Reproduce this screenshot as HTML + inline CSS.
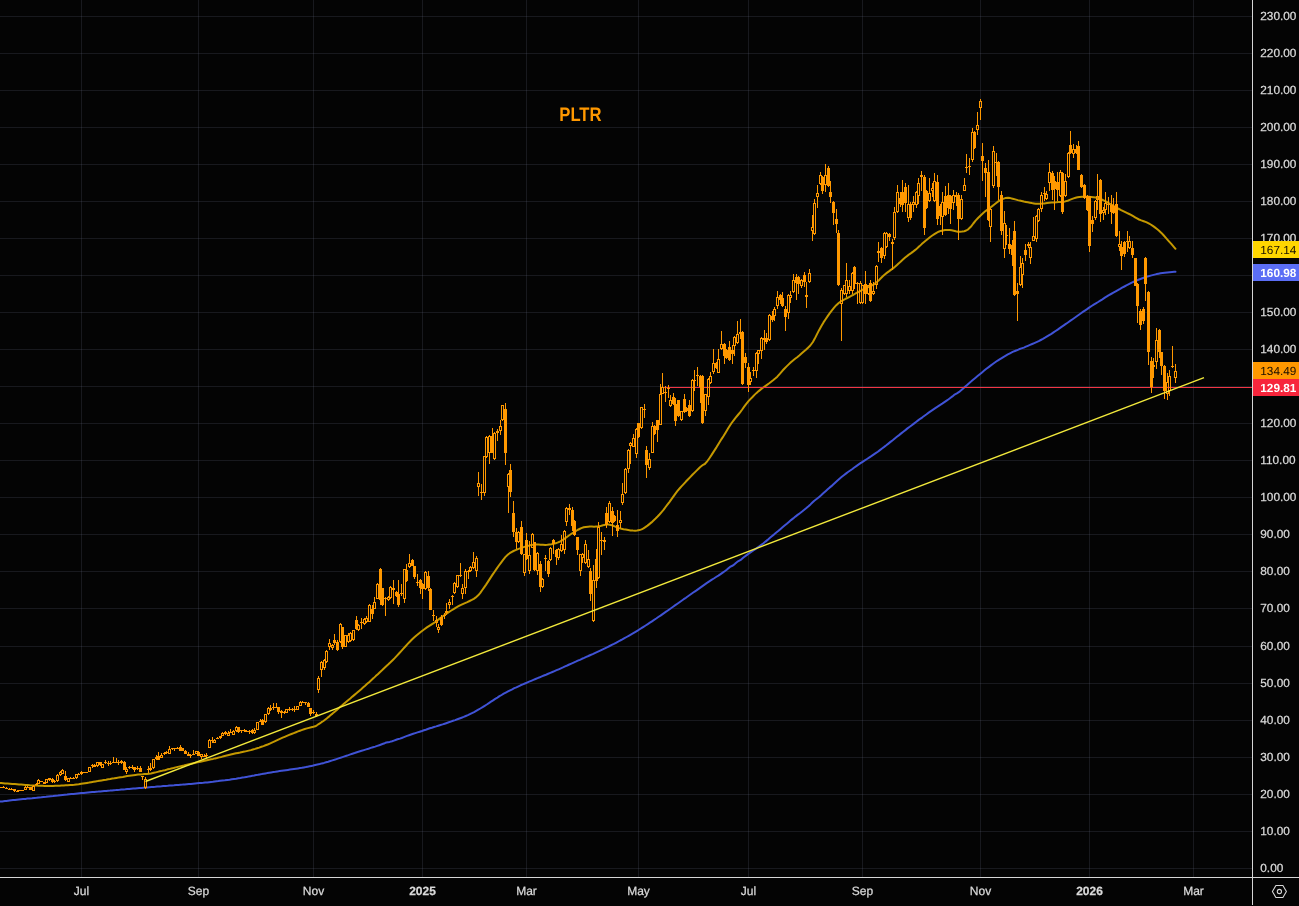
<!DOCTYPE html>
<html><head><meta charset="utf-8"><title>PLTR chart</title>
<style>
html,body{margin:0;padding:0;background:#040404;width:1299px;height:906px;overflow:hidden;font-family:"Liberation Sans",sans-serif}
#chart{position:relative;width:1299px;height:906px;overflow:hidden;will-change:transform}
svg text{-webkit-font-smoothing:antialiased;text-rendering:geometricPrecision}
</style></head><body><div id="chart">
<svg width="1299" height="906" viewBox="0 0 1299 906" style="position:absolute;left:0;top:0;display:block">
<rect width="1299" height="906" fill="#040404"/>
<path d="M81 0h1v877h-1zM198 0h1v877h-1zM313 0h1v877h-1zM422 0h1v877h-1zM526 0h1v877h-1zM638 0h1v877h-1zM748 0h1v877h-1zM862 0h1v877h-1zM980 0h1v877h-1zM1089 0h1v877h-1zM1193 0h1v877h-1z" fill="rgba(122,130,160,0.17)" shape-rendering="crispEdges"/>
<path d="M0 868h1252v1h-1252zM0 831h1252v1h-1252zM0 794h1252v1h-1252zM0 757h1252v1h-1252zM0 720h1252v1h-1252zM0 683h1252v1h-1252zM0 646h1252v1h-1252zM0 608h1252v1h-1252zM0 571h1252v1h-1252zM0 534h1252v1h-1252zM0 497h1252v1h-1252zM0 460h1252v1h-1252zM0 423h1252v1h-1252zM0 386h1252v1h-1252zM0 349h1252v1h-1252zM0 312h1252v1h-1252zM0 275h1252v1h-1252zM0 238h1252v1h-1252zM0 201h1252v1h-1252zM0 164h1252v1h-1252zM0 127h1252v1h-1252zM0 90h1252v1h-1252zM0 53h1252v1h-1252zM0 16h1252v1h-1252z" fill="rgba(122,130,160,0.17)" shape-rendering="crispEdges"/>
<polyline points="0.0,801.6 1.1,801.5 2.3,801.4 3.5,801.2 4.9,801.0 6.4,800.9 8.0,800.7 9.6,800.5 11.3,800.3 13.1,800.1 15.0,800.0 16.9,799.7 18.9,799.5 21.0,799.3 23.1,799.1 25.3,798.9 27.5,798.6 29.7,798.4 32.0,798.2 34.3,797.9 36.6,797.7 39.0,797.4 41.3,797.2 43.7,796.9 46.1,796.7 48.5,796.4 50.9,796.2 53.2,796.0 55.6,795.7 57.9,795.5 60.3,795.2 62.6,795.0 64.8,794.8 67.1,794.6 69.2,794.3 71.4,794.1 73.5,793.9 75.5,793.7 77.5,793.5 79.4,793.3 81.3,793.1 83.6,792.9 85.8,792.7 87.9,792.5 90.1,792.3 92.2,792.1 94.3,791.9 96.3,791.7 98.3,791.6 100.3,791.4 102.3,791.2 104.3,791.0 106.2,790.9 108.1,790.7 110.1,790.6 112.0,790.4 113.9,790.2 115.8,790.1 117.7,789.9 119.6,789.8 121.5,789.6 123.4,789.4 125.3,789.3 127.3,789.1 129.2,789.0 131.2,788.8 133.2,788.6 135.2,788.5 137.2,788.3 139.3,788.1 141.3,788.0 143.5,787.8 145.6,787.6 147.5,787.5 149.4,787.3 151.4,787.1 153.3,786.9 155.3,786.8 157.3,786.6 159.4,786.4 161.4,786.3 163.5,786.1 165.6,785.9 167.7,785.8 169.8,785.6 171.9,785.4 174.0,785.3 176.2,785.1 178.3,784.9 180.4,784.7 182.6,784.6 184.7,784.4 186.8,784.2 188.9,784.0 191.0,783.9 193.1,783.7 195.2,783.5 197.2,783.3 199.3,783.1 201.3,782.9 203.3,782.8 205.3,782.6 207.2,782.4 209.2,782.2 211.0,782.0 212.9,781.8 214.7,781.5 216.5,781.3 218.3,781.1 220.0,780.8 222.5,780.5 224.9,780.3 227.3,780.0 229.6,779.7 231.8,779.3 234.0,779.0 236.2,778.7 238.3,778.3 240.4,778.0 242.5,777.6 244.5,777.3 246.5,776.9 248.4,776.6 250.4,776.2 252.3,775.8 254.2,775.5 256.1,775.1 258.0,774.8 259.8,774.4 261.7,774.1 263.6,773.7 265.4,773.4 267.3,773.1 269.2,772.7 271.1,772.4 273.3,772.1 275.4,771.8 277.5,771.4 279.6,771.1 281.7,770.8 283.8,770.5 285.9,770.2 287.9,769.9 290.0,769.6 292.0,769.3 294.0,769.0 296.0,768.7 298.0,768.4 300.0,768.1 301.9,767.8 303.9,767.4 305.8,767.1 307.7,766.7 309.6,766.3 311.5,765.9 313.3,765.5 315.2,765.0 317.4,764.5 319.7,764.0 321.8,763.4 324.0,762.9 326.1,762.3 328.2,761.7 330.3,761.0 332.4,760.4 334.4,759.8 336.5,759.1 338.5,758.4 340.5,757.8 342.5,757.1 344.5,756.4 346.5,755.7 348.4,755.1 350.4,754.4 352.4,753.7 354.6,753.0 356.9,752.2 359.2,751.5 361.6,750.8 363.9,750.1 366.2,749.4 368.5,748.7 370.8,747.9 373.0,747.2 375.2,746.6 377.3,745.9 379.3,745.2 381.2,744.5 383.1,743.8 384.7,743.2 386.3,742.5 389.7,741.9 392.1,741.2 393.9,740.6 395.6,740.0 397.5,739.3 400.0,738.6 401.7,738.0 403.4,737.3 405.2,736.6 407.1,735.9 409.1,735.2 411.1,734.5 413.2,733.8 415.3,733.1 417.5,732.4 419.7,731.7 422.0,731.0 423.9,730.3 425.8,729.7 427.8,729.0 429.8,728.3 431.9,727.7 434.0,727.0 436.2,726.4 438.3,725.7 440.5,725.0 442.6,724.4 444.7,723.7 446.8,723.0 448.8,722.3 450.8,721.6 453.0,720.8 455.2,720.1 457.4,719.3 459.5,718.5 461.6,717.7 463.7,716.9 465.8,716.0 467.9,715.1 469.9,714.1 472.0,713.1 474.1,712.1 476.2,710.9 478.3,709.7 480.4,708.5 482.6,707.2 484.7,705.8 486.8,704.5 488.9,703.1 491.0,701.7 493.1,700.3 495.2,698.9 497.4,697.6 499.5,696.2 501.6,695.0 503.7,693.7 505.8,692.6 508.0,691.4 510.1,690.3 512.2,689.3 514.3,688.2 516.4,687.3 518.5,686.3 520.6,685.3 522.8,684.4 524.9,683.5 527.0,682.6 529.1,681.7 531.2,680.8 533.4,679.9 535.5,679.0 537.6,678.1 539.7,677.3 541.8,676.4 543.9,675.5 546.0,674.7 548.2,673.8 550.3,672.9 552.4,672.0 554.5,671.1 556.6,670.2 558.7,669.3 560.9,668.3 563.0,667.4 565.1,666.4 567.2,665.5 569.3,664.5 571.4,663.6 573.6,662.6 575.7,661.7 577.8,660.7 579.9,659.8 582.0,658.8 584.2,657.9 586.3,656.9 588.4,656.0 590.5,655.0 592.7,654.1 594.8,653.1 596.9,652.1 599.1,651.1 601.2,650.1 603.3,649.1 605.4,648.1 607.5,647.1 609.7,646.0 611.8,644.9 613.9,643.9 616.0,642.8 618.1,641.7 620.2,640.5 622.4,639.4 624.5,638.2 626.6,637.0 628.7,635.8 630.8,634.6 632.9,633.4 635.1,632.1 637.2,630.8 639.3,629.5 641.4,628.2 643.5,626.8 645.6,625.5 647.8,624.1 649.9,622.7 652.0,621.3 654.1,619.9 656.2,618.5 658.3,617.0 660.5,615.6 662.6,614.1 664.7,612.6 666.8,611.2 668.9,609.7 671.0,608.2 673.1,606.7 675.3,605.2 677.4,603.7 679.5,602.2 681.6,600.7 683.7,599.2 685.9,597.8 688.0,596.3 690.1,594.8 692.2,593.3 694.3,591.8 696.5,590.4 698.6,588.9 700.7,587.4 702.8,585.9 704.9,584.4 707.0,582.9 709.3,581.4 711.5,579.9 713.8,578.5 716.1,577.0 718.4,575.6 720.6,574.1 722.7,572.6 724.7,571.2 726.7,569.8 728.4,568.3 730.0,566.9 732.9,565.5 734.7,564.1 736.2,562.7 738.0,561.3 740.7,559.9 742.3,558.5 744.1,557.0 746.0,555.6 748.0,554.1 750.1,552.6 752.3,551.1 754.5,549.7 756.8,548.1 759.0,546.5 761.3,544.9 763.5,543.3 765.5,541.6 767.6,539.9 769.7,538.1 771.8,536.3 773.9,534.6 776.0,532.8 778.2,531.0 780.3,529.2 782.5,527.3 784.6,525.5 786.8,523.7 788.9,521.9 791.0,520.1 793.2,518.4 795.4,516.6 797.6,514.9 799.9,513.2 802.1,511.5 804.3,509.7 806.4,508.0 808.5,506.2 810.5,504.4 812.4,502.5 814.3,500.7 816.9,498.8 819.2,496.9 821.4,495.0 823.5,493.1 825.6,491.2 827.7,489.3 829.8,487.4 832.1,485.6 834.0,483.8 835.9,482.0 837.8,480.2 839.8,478.5 841.8,476.8 843.8,475.2 845.9,473.6 848.0,472.0 850.2,470.5 852.4,469.0 854.3,467.5 856.3,466.1 858.4,464.6 860.5,463.2 862.6,461.8 864.8,460.4 867.0,459.0 869.1,457.6 871.3,456.2 873.5,454.7 875.7,453.2 877.8,451.7 879.9,450.1 882.0,448.5 884.2,446.9 886.3,445.3 888.4,443.6 890.5,441.9 892.7,440.2 894.8,438.5 896.9,436.8 899.1,435.1 901.2,433.4 903.3,431.7 905.4,430.1 907.5,428.4 909.7,426.8 911.8,425.2 913.9,423.6 916.0,422.0 918.1,420.4 920.2,418.8 922.4,417.3 924.5,415.7 926.6,414.2 928.7,412.6 930.9,411.1 933.1,409.6 935.3,408.1 937.6,406.6 939.9,405.1 942.2,403.7 944.4,402.2 946.6,400.7 948.6,399.3 950.6,397.8 952.4,396.4 954.1,394.9 956.9,393.4 959.2,391.9 961.1,390.3 962.9,388.7 964.7,387.0 966.8,385.2 968.8,383.4 971.0,381.6 973.1,379.8 975.3,378.0 977.6,376.1 979.8,374.2 982.0,372.4 984.2,370.6 986.4,368.8 988.7,367.1 990.9,365.4 993.1,363.8 995.2,362.3 997.3,360.8 999.6,359.4 1001.7,358.1 1003.7,356.8 1005.8,355.6 1007.8,354.4 1010.0,353.3 1012.2,352.2 1014.4,351.2 1016.7,350.3 1019.0,349.3 1021.4,348.4 1023.9,347.6 1025.9,346.7 1027.9,345.8 1030.0,344.9 1032.2,344.0 1034.3,343.1 1036.5,342.1 1038.7,341.1 1040.8,340.0 1042.9,338.9 1045.0,337.7 1047.1,336.4 1049.2,335.1 1051.4,333.8 1053.5,332.4 1055.6,331.0 1057.7,329.6 1059.8,328.1 1061.9,326.6 1064.1,325.1 1066.2,323.7 1068.3,322.2 1070.5,320.7 1072.6,319.2 1074.7,317.7 1076.8,316.2 1078.9,314.7 1081.0,313.2 1083.2,311.7 1085.3,310.3 1087.4,308.9 1089.5,307.4 1091.6,306.0 1093.7,304.7 1095.9,303.3 1098.1,302.0 1100.3,300.6 1102.4,299.3 1104.5,297.9 1106.5,296.6 1108.5,295.3 1111.0,294.0 1113.4,292.7 1115.7,291.4 1117.9,290.1 1120.1,288.9 1122.1,287.7 1124.4,286.5 1126.4,285.4 1128.4,284.4 1130.3,283.4 1132.3,282.4 1134.3,281.5 1136.3,280.6 1138.4,279.8 1140.4,279.0 1142.4,278.2 1144.4,277.5 1146.5,276.8 1148.5,276.2 1150.6,275.6 1152.6,275.1 1154.6,274.6 1156.5,274.1 1158.5,273.7 1160.5,273.3 1162.7,273.0 1164.8,272.7 1167.2,272.4 1169.7,272.2 1172.1,272.0 1174.1,271.8 1175.5,271.7" fill="none" stroke="#4053d6" stroke-width="2" stroke-linejoin="round" stroke-linecap="round"/>
<polyline points="0.0,783.0 1.3,783.1 3.1,783.2 5.1,783.4 7.4,783.6 9.9,783.8 12.4,784.0 14.8,784.1 17.0,784.3 19.1,784.5 21.2,784.6 23.4,784.8 25.5,785.0 27.6,785.1 29.8,785.3 31.9,785.4 34.0,785.5 36.1,785.6 38.3,785.7 40.4,785.8 42.5,785.8 44.6,785.9 46.8,785.9 48.9,785.9 51.0,785.9 53.1,785.9 55.3,785.8 57.4,785.7 59.6,785.7 61.7,785.6 63.8,785.5 65.8,785.3 67.7,785.2 70.1,785.0 72.2,784.9 74.3,784.7 76.4,784.4 78.7,784.2 81.3,783.8 83.1,783.5 85.0,783.2 87.0,782.9 89.1,782.6 91.2,782.2 93.4,781.8 95.5,781.4 97.7,781.1 99.7,780.7 101.6,780.4 103.9,780.0 106.1,779.7 108.2,779.3 110.3,779.0 112.3,778.6 114.3,778.3 116.4,777.9 118.5,777.6 120.6,777.2 122.8,776.9 125.0,776.5 127.2,776.1 129.4,775.8 131.5,775.5 133.5,775.2 135.5,774.9 138.0,774.6 140.3,774.4 142.6,774.3 144.7,774.1 146.9,774.0 149.0,773.7 151.0,773.4 152.9,773.0 154.8,772.6 156.7,772.1 158.7,771.6 161.0,771.1 162.9,770.6 164.9,770.2 166.9,769.6 169.1,769.1 171.3,768.5 173.5,768.0 175.7,767.4 177.8,766.9 179.9,766.4 181.9,765.9 183.9,765.5 185.9,765.0 188.0,764.5 190.1,764.0 192.3,763.5 194.7,763.0 196.5,762.6 198.5,762.1 200.5,761.7 202.6,761.2 204.7,760.8 206.9,760.3 209.0,759.8 211.1,759.3 213.1,758.9 215.1,758.4 216.9,758.0 219.3,757.4 221.5,756.9 223.7,756.3 225.7,755.8 227.8,755.3 229.8,754.8 231.8,754.3 233.9,753.8 236.0,753.3 238.1,752.9 240.2,752.5 242.4,752.0 244.5,751.6 246.6,751.1 248.7,750.6 250.8,750.1 252.9,749.5 255.0,748.9 257.1,748.2 259.2,747.6 261.4,746.8 263.5,746.1 265.6,745.3 267.7,744.5 269.8,743.6 271.9,742.7 274.1,741.7 276.2,740.7 278.3,739.7 280.5,738.7 282.6,737.7 284.7,736.8 286.9,735.9 289.2,734.9 291.5,734.0 293.8,733.1 296.0,732.2 298.0,731.4 299.9,730.7 301.6,730.1 304.8,729.0 307.0,728.4 309.0,727.9 311.3,727.3 313.4,726.8 315.2,726.3 316.9,725.3 318.3,724.3 319.8,723.4 321.5,722.2 323.4,721.0 327.0,718.2 328.6,716.9 330.4,715.3 332.5,713.6 334.7,711.7 337.1,709.7 339.4,707.6 341.7,705.7 343.9,703.8 346.0,702.0 348.1,700.2 350.3,698.4 352.4,696.6 354.5,694.9 356.7,693.1 358.8,691.2 360.9,689.4 363.0,687.5 365.1,685.7 367.2,683.8 369.4,681.9 371.5,680.0 373.6,678.1 375.7,676.1 377.8,674.2 379.9,672.2 382.0,670.3 384.1,668.3 386.2,666.3 388.4,664.3 390.5,662.3 392.6,660.2 394.7,658.1 396.8,655.9 399.0,653.5 401.2,651.1 403.4,648.6 405.6,646.2 407.7,643.9 409.8,641.7 411.7,639.8 414.1,637.5 416.4,635.5 418.6,633.7 420.7,632.0 422.7,630.5 424.7,629.0 426.9,627.4 428.9,626.1 430.9,624.8 432.8,623.6 434.8,622.3 436.8,620.9 438.7,619.4 440.7,617.8 442.7,616.3 445.0,614.7 447.0,613.3 449.1,611.9 451.3,610.5 453.6,609.1 456.0,607.6 458.5,606.2 460.5,605.1 462.7,604.1 465.0,603.1 467.3,602.1 469.6,601.0 471.8,599.9 473.8,598.8 475.5,597.7 478.2,595.3 480.3,592.9 482.1,590.3 484.0,587.6 486.1,584.6 488.2,581.4 490.3,578.1 492.4,574.9 494.6,571.7 496.7,568.6 498.9,565.5 500.9,562.8 503.3,559.6 505.5,556.9 508.0,554.5 509.7,553.2 511.5,552.1 513.5,551.0 515.6,550.1 518.0,549.1 519.9,548.4 522.1,547.6 524.3,546.9 526.7,546.2 529.0,545.6 531.3,545.1 533.5,544.7 535.9,544.5 538.3,544.5 540.7,544.7 543.0,544.8 545.2,544.9 547.4,544.8 549.5,544.5 551.6,544.2 553.6,543.8 555.6,543.3 557.5,542.6 559.5,541.8 561.9,540.5 564.2,538.9 566.6,537.2 568.9,535.5 571.1,534.0 573.3,532.6 575.4,531.3 577.5,530.0 579.5,529.0 581.3,528.1 583.7,527.3 585.7,526.9 588.1,526.7 589.9,526.6 591.9,526.6 594.0,526.7 596.1,526.6 598.2,526.5 600.2,526.1 602.2,525.5 604.3,524.9 606.4,524.5 608.6,524.5 610.6,524.9 612.6,525.5 614.7,526.4 616.8,527.2 619.1,528.1 621.4,528.7 623.5,529.2 625.8,529.6 628.2,530.0 630.6,530.4 632.9,530.6 635.1,530.7 637.1,530.6 639.5,530.1 641.6,529.4 643.5,528.4 645.4,527.1 647.5,525.6 649.4,524.1 651.5,522.4 653.5,520.5 655.6,518.5 657.6,516.5 659.5,514.5 661.6,512.1 663.7,509.6 665.6,507.0 667.6,504.4 669.6,501.8 671.5,499.2 673.3,496.7 675.1,494.1 677.3,491.2 680.0,488.0 681.7,486.1 683.6,484.1 685.7,481.8 687.9,479.5 690.2,477.1 692.4,474.8 694.6,472.6 696.6,470.6 698.5,468.7 700.0,467.2 703.1,464.8 704.8,464.0 707.6,460.8 709.4,458.2 711.6,454.9 714.0,451.1 716.6,447.1 719.1,443.0 721.5,439.1 723.7,435.7 725.4,432.9 728.2,428.3 729.8,425.7 731.6,423.0 733.6,420.4 735.7,417.7 737.9,415.0 740.1,412.3 742.2,409.5 744.2,406.7 746.3,403.9 748.5,401.2 750.4,399.1 752.5,397.0 754.5,394.9 756.6,392.9 758.7,391.1 760.8,389.4 762.9,387.8 764.9,386.4 767.0,384.9 768.9,383.5 771.2,381.7 773.4,380.0 775.5,378.3 777.3,376.7 779.8,373.9 782.4,370.8 784.3,368.8 786.4,366.6 788.7,364.4 790.9,362.3 793.0,360.5 795.1,358.8 797.2,357.2 799.3,355.5 801.5,353.6 803.8,351.6 805.9,349.7 807.8,347.9 810.3,345.5 812.9,342.0 814.8,338.6 816.9,334.4 819.2,329.9 821.4,325.9 823.5,322.4 825.6,319.2 827.7,316.1 829.8,313.2 831.9,310.4 834.1,307.7 836.3,305.2 838.7,303.0 840.7,301.5 842.8,300.3 845.0,299.2 847.2,298.0 849.6,296.8 851.7,295.7 853.9,294.5 856.1,293.2 858.4,292.0 860.6,290.8 862.8,289.7 865.3,288.5 867.7,287.4 870.1,286.3 872.5,285.2 874.7,283.8 876.8,282.1 878.9,280.2 880.8,278.3 882.8,276.3 884.8,274.5 886.8,272.9 888.9,271.4 890.9,269.9 893.0,268.4 895.0,266.8 897.0,265.0 899.1,263.1 901.1,261.2 903.2,259.3 905.2,257.5 907.3,255.9 909.3,254.3 911.4,252.9 913.4,251.4 915.3,249.9 917.5,248.0 919.6,246.1 921.7,244.1 923.8,242.3 925.9,240.5 928.1,238.7 930.2,237.0 932.3,235.5 934.4,234.1 936.5,232.8 938.6,231.7 940.7,230.9 942.9,230.4 945.0,230.1 947.3,230.0 949.6,230.1 951.6,230.3 953.7,230.8 955.8,231.3 957.9,231.7 959.8,231.8 962.0,231.6 964.2,231.2 966.2,230.5 968.2,229.3 970.8,226.8 973.3,223.5 975.8,220.4 978.3,217.7 980.9,215.2 983.5,212.8 985.5,211.1 987.6,209.5 989.8,208.0 991.9,206.4 994.0,204.7 996.2,203.0 998.3,201.4 1000.4,200.1 1002.9,198.9 1005.3,198.1 1008.0,197.8 1010.3,198.1 1012.7,198.7 1015.2,199.4 1017.7,200.1 1019.7,200.6 1021.7,201.0 1023.8,201.5 1025.9,201.9 1027.9,202.3 1029.9,202.7 1031.8,203.1 1033.8,203.4 1035.8,203.7 1038.1,203.8 1040.2,203.8 1042.4,203.6 1044.6,203.4 1047.0,203.1 1049.3,202.8 1051.6,202.6 1053.9,202.4 1056.3,202.3 1058.7,202.1 1061.0,201.9 1063.2,201.7 1065.2,201.4 1067.7,200.7 1069.7,199.9 1071.6,199.1 1073.6,198.4 1075.6,197.8 1077.5,197.3 1079.6,196.9 1082.1,196.7 1084.1,196.7 1086.4,196.7 1088.7,196.7 1091.2,196.9 1093.5,197.2 1095.6,197.5 1097.8,198.0 1099.8,198.7 1101.7,199.5 1103.6,200.4 1105.8,201.5 1107.8,202.6 1110.0,203.8 1112.3,205.1 1114.6,206.5 1116.8,207.8 1119.0,209.0 1121.1,210.1 1123.2,211.1 1125.3,212.1 1127.3,213.1 1129.2,214.0 1131.0,214.9 1133.2,216.2 1135.1,217.3 1137.0,218.4 1139.0,219.5 1141.3,220.4 1143.7,221.2 1146.2,222.1 1148.7,223.3 1150.7,224.5 1152.8,225.9 1154.9,227.4 1157.0,229.0 1158.8,230.5 1161.4,232.9 1163.6,235.3 1166.1,238.1 1168.5,240.8 1171.3,243.9 1173.8,246.8 1175.5,248.8" fill="none" stroke="#c49800" stroke-width="2" stroke-linejoin="round" stroke-linecap="round"/>
<rect x="664" y="387" width="588" height="1" fill="#f23645" shape-rendering="crispEdges"/>
<g shape-rendering="crispEdges"><path d="M3 786h1v1h-1zM6 787h1v1h-1zM9 788h1v1h-1zM11 788h1v1h-1zM14 791h1v1h-1zM17 790h1v1h-1zM25 786h1v1h-1zM27 786h1v1h-1zM33 785h1v1h-1zM36 783h1v1h-1zM38 779h1v1h-1zM49 780h1v1h-1zM52 778h1v1h-1zM52 782h1v1h-1zM54 780h1v1h-1zM54 782h1v1h-1zM57 774h1v1h-1zM57 781h1v1h-1zM60 771h1v1h-1zM60 775h1v1h-1zM62 769h1v1h-1zM65 771h1v5h-1zM65 780h1v1h-1zM70 777h1v1h-1zM73 777h1v1h-1zM76 778h1v1h-1zM78 773h1v1h-1zM81 771h1v1h-1zM81 774h1v1h-1zM92 764h1v1h-1zM92 766h1v2h-1zM94 764h1v1h-1zM97 766h1v1h-1zM100 765h1v1h-1zM105 760h1v2h-1zM105 763h1v1h-1zM108 761h1v2h-1zM108 764h1v2h-1zM110 761h1v2h-1zM110 764h1v1h-1zM113 757h1v5h-1zM116 758h1v4h-1zM118 760h1v2h-1zM118 763h1v2h-1zM121 760h1v1h-1zM121 763h1v1h-1zM124 761h1v1h-1zM126 767h1v2h-1zM126 772h1v2h-1zM129 766h1v1h-1zM129 768h1v1h-1zM132 765h1v2h-1zM132 768h1v1h-1zM134 770h1v2h-1zM137 766h1v2h-1zM137 769h1v1h-1zM140 766h1v2h-1zM142 777h1v3h-1zM145 777h1v2h-1zM145 788h1v1h-1zM148 766h1v3h-1zM148 770h1v3h-1zM150 763h1v5h-1zM150 770h1v1h-1zM153 768h1v1h-1zM156 755h1v2h-1zM156 759h1v1h-1zM158 752h1v4h-1zM161 753h1v2h-1zM164 752h1v1h-1zM164 754h1v1h-1zM166 751h1v1h-1zM166 753h1v1h-1zM169 746h1v3h-1zM172 749h1v1h-1zM174 749h1v2h-1zM177 747h1v1h-1zM180 745h1v2h-1zM185 750h1v1h-1zM188 752h1v2h-1zM190 754h1v1h-1zM190 756h1v2h-1zM193 750h1v4h-1zM198 751h1v1h-1zM201 757h1v2h-1zM204 754h1v2h-1zM206 753h1v2h-1zM206 756h1v2h-1zM209 739h1v1h-1zM212 737h1v3h-1zM212 741h1v2h-1zM214 739h1v1h-1zM217 737h1v1h-1zM220 738h1v1h-1zM222 732h1v1h-1zM225 731h1v1h-1zM225 734h1v1h-1zM228 731h1v2h-1zM230 729h1v3h-1zM233 730h1v1h-1zM236 726h1v1h-1zM236 731h1v1h-1zM238 732h1v1h-1zM241 731h1v2h-1zM244 729h1v1h-1zM244 731h1v1h-1zM246 730h1v1h-1zM249 730h1v1h-1zM249 732h1v2h-1zM252 729h1v1h-1zM252 733h1v1h-1zM254 728h1v2h-1zM254 733h1v1h-1zM260 719h1v2h-1zM262 719h1v1h-1zM265 722h1v1h-1zM268 707h1v1h-1zM268 714h1v1h-1zM270 705h1v3h-1zM270 710h1v1h-1zM273 703h1v4h-1zM273 708h1v2h-1zM276 703h1v4h-1zM278 712h1v2h-1zM281 710h1v1h-1zM281 713h1v5h-1zM284 711h1v1h-1zM284 713h1v1h-1zM289 707h1v2h-1zM289 710h1v1h-1zM292 708h1v1h-1zM292 710h1v1h-1zM294 706h1v3h-1zM294 710h1v2h-1zM300 701h1v1h-1zM302 701h1v1h-1zM305 703h1v2h-1zM308 702h1v1h-1zM310 714h1v2h-1zM313 710h1v2h-1zM313 713h1v1h-1zM316 712h1v2h-1zM316 716h1v1h-1zM318 676h1v2h-1zM318 690h1v3h-1zM321 661h1v1h-1zM321 670h1v7h-1zM324 659h1v1h-1zM324 668h1v2h-1zM326 650h1v1h-1zM326 662h1v1h-1zM329 639h1v4h-1zM329 647h1v3h-1zM332 644h1v1h-1zM332 648h1v2h-1zM334 634h1v6h-1zM334 643h1v2h-1zM337 640h1v2h-1zM337 650h1v1h-1zM340 623h1v1h-1zM340 642h1v1h-1zM342 647h1v2h-1zM348 633h1v2h-1zM348 642h1v1h-1zM350 632h1v1h-1zM350 641h1v1h-1zM353 640h1v1h-1zM356 616h1v4h-1zM356 629h1v1h-1zM358 624h1v1h-1zM358 630h1v1h-1zM361 618h1v4h-1zM361 623h1v6h-1zM364 618h1v1h-1zM364 624h1v1h-1zM366 616h1v2h-1zM366 622h1v1h-1zM369 604h1v1h-1zM372 605h1v4h-1zM372 614h1v5h-1zM374 597h1v5h-1zM377 583h1v1h-1zM380 568h1v1h-1zM380 600h1v5h-1zM382 605h1v1h-1zM385 597h1v1h-1zM385 599h1v17h-1zM388 596h1v1h-1zM388 600h1v1h-1zM390 586h1v1h-1zM390 598h1v1h-1zM393 580h1v8h-1zM393 590h1v14h-1zM396 591h1v1h-1zM396 596h1v1h-1zM398 580h1v14h-1zM398 605h1v2h-1zM401 584h1v9h-1zM401 594h1v2h-1zM404 599h1v4h-1zM406 564h1v6h-1zM406 581h1v1h-1zM409 554h1v9h-1zM409 567h1v1h-1zM412 559h1v1h-1zM414 577h1v2h-1zM417 574h1v8h-1zM417 583h1v3h-1zM420 579h1v1h-1zM420 588h1v6h-1zM422 583h1v1h-1zM422 589h1v10h-1zM425 571h1v1h-1zM425 589h1v1h-1zM428 571h1v5h-1zM428 588h1v3h-1zM430 588h1v1h-1zM433 610h1v5h-1zM433 616h1v5h-1zM436 616h1v4h-1zM436 623h1v4h-1zM438 624h1v3h-1zM438 630h1v3h-1zM441 615h1v2h-1zM441 625h1v1h-1zM444 613h1v2h-1zM444 616h1v3h-1zM446 603h1v8h-1zM446 613h1v2h-1zM449 599h1v3h-1zM449 605h1v4h-1zM452 595h1v1h-1zM452 597h1v8h-1zM454 582h1v1h-1zM454 593h1v1h-1zM457 587h1v1h-1zM460 563h1v12h-1zM460 576h1v1h-1zM462 584h1v4h-1zM462 594h1v5h-1zM465 569h1v2h-1zM465 588h1v6h-1zM468 570h1v1h-1zM468 572h1v7h-1zM470 566h1v1h-1zM470 571h1v1h-1zM473 552h1v10h-1zM473 568h1v1h-1zM476 556h1v2h-1zM476 571h1v6h-1zM478 472h1v11h-1zM478 487h1v9h-1zM481 484h1v8h-1zM481 493h1v7h-1zM484 493h1v3h-1zM486 436h1v1h-1zM486 457h1v1h-1zM489 435h1v1h-1zM489 453h1v11h-1zM492 428h1v8h-1zM494 432h1v1h-1zM494 459h1v1h-1zM497 429h1v2h-1zM497 433h1v8h-1zM500 420h1v6h-1zM500 431h1v4h-1zM502 420h1v1h-1zM505 403h1v6h-1zM505 453h1v12h-1zM508 473h1v1h-1zM508 487h1v26h-1zM510 464h1v6h-1zM510 492h1v5h-1zM513 501h1v12h-1zM513 532h1v5h-1zM516 528h1v4h-1zM516 542h1v7h-1zM518 531h1v1h-1zM518 542h1v1h-1zM521 521h1v6h-1zM521 554h1v1h-1zM524 573h1v3h-1zM526 533h1v7h-1zM526 559h1v1h-1zM529 541h1v14h-1zM529 571h1v3h-1zM532 533h1v1h-1zM534 570h1v1h-1zM537 552h1v1h-1zM537 571h1v4h-1zM540 561h1v3h-1zM540 587h1v5h-1zM542 578h1v1h-1zM542 587h1v1h-1zM545 555h1v3h-1zM545 559h1v12h-1zM548 560h1v1h-1zM548 574h1v3h-1zM550 547h1v1h-1zM550 560h1v1h-1zM553 539h1v1h-1zM553 544h1v10h-1zM556 549h1v1h-1zM556 557h1v8h-1zM558 548h1v1h-1zM558 558h1v2h-1zM561 535h1v9h-1zM561 551h1v1h-1zM564 530h1v1h-1zM564 550h1v4h-1zM566 507h1v1h-1zM566 522h1v4h-1zM569 504h1v4h-1zM569 510h1v5h-1zM572 507h1v3h-1zM572 526h1v5h-1zM574 520h1v1h-1zM574 535h1v1h-1zM577 550h1v5h-1zM580 571h1v5h-1zM582 553h1v1h-1zM582 558h1v5h-1zM585 540h1v4h-1zM585 563h1v1h-1zM588 550h1v9h-1zM588 567h1v1h-1zM590 568h1v3h-1zM590 594h1v7h-1zM593 565h1v15h-1zM593 621h1v1h-1zM596 549h1v10h-1zM596 581h1v7h-1zM598 522h1v5h-1zM598 578h1v1h-1zM601 532h1v8h-1zM601 541h1v14h-1zM604 537h1v3h-1zM604 542h1v8h-1zM606 507h1v6h-1zM606 525h1v3h-1zM609 501h1v2h-1zM609 522h1v1h-1zM612 507h1v4h-1zM612 523h1v13h-1zM614 515h1v1h-1zM614 521h1v1h-1zM617 510h1v15h-1zM617 531h1v6h-1zM620 511h1v9h-1zM620 523h1v5h-1zM622 483h1v11h-1zM622 503h1v2h-1zM625 468h1v1h-1zM625 493h1v1h-1zM628 449h1v1h-1zM628 469h1v4h-1zM630 442h1v1h-1zM630 446h1v18h-1zM633 434h1v4h-1zM636 428h1v1h-1zM636 454h1v4h-1zM638 437h1v1h-1zM641 428h1v1h-1zM644 404h1v5h-1zM644 410h1v8h-1zM646 446h1v4h-1zM646 465h1v13h-1zM649 453h1v6h-1zM649 468h1v2h-1zM652 422h1v4h-1zM654 425h1v1h-1zM654 434h1v1h-1zM657 430h1v12h-1zM660 384h1v10h-1zM662 373h1v14h-1zM665 386h1v6h-1zM665 393h1v9h-1zM668 385h1v3h-1zM668 389h1v9h-1zM670 395h1v5h-1zM670 406h1v1h-1zM673 393h1v4h-1zM673 404h1v1h-1zM675 398h1v6h-1zM675 421h1v5h-1zM678 416h1v1h-1zM681 420h1v1h-1zM684 394h1v5h-1zM684 412h1v1h-1zM686 407h1v1h-1zM686 411h1v1h-1zM689 400h1v5h-1zM689 416h1v1h-1zM692 379h1v1h-1zM692 411h1v1h-1zM694 370h1v10h-1zM694 381h1v10h-1zM697 367h1v8h-1zM697 376h1v10h-1zM700 375h1v1h-1zM700 387h1v16h-1zM702 375h1v1h-1zM702 423h1v1h-1zM705 411h1v5h-1zM708 378h1v1h-1zM708 397h1v8h-1zM710 372h1v4h-1zM710 383h1v1h-1zM713 349h1v14h-1zM713 372h1v2h-1zM716 362h1v1h-1zM716 368h1v1h-1zM718 349h1v10h-1zM721 331h1v13h-1zM721 349h1v1h-1zM724 343h1v1h-1zM724 356h1v8h-1zM726 349h1v1h-1zM726 358h1v1h-1zM729 341h1v6h-1zM729 360h1v1h-1zM732 345h1v5h-1zM732 354h1v10h-1zM734 336h1v1h-1zM734 346h1v10h-1zM737 321h1v13h-1zM737 343h1v1h-1zM740 319h1v13h-1zM740 334h1v5h-1zM742 331h1v1h-1zM742 384h1v1h-1zM745 353h1v4h-1zM745 363h1v5h-1zM748 363h1v4h-1zM748 385h1v7h-1zM750 372h1v6h-1zM750 382h1v3h-1zM753 367h1v3h-1zM753 371h1v5h-1zM756 352h1v1h-1zM756 371h1v7h-1zM758 354h1v10h-1zM761 337h1v1h-1zM761 351h1v8h-1zM764 330h1v8h-1zM764 340h1v10h-1zM766 333h1v5h-1zM766 342h1v2h-1zM769 314h1v1h-1zM769 340h1v1h-1zM772 311h1v5h-1zM772 320h1v2h-1zM774 307h1v2h-1zM774 316h1v5h-1zM777 291h1v6h-1zM777 306h1v3h-1zM780 294h1v1h-1zM780 300h1v4h-1zM782 292h1v6h-1zM782 306h1v1h-1zM785 306h1v3h-1zM785 317h1v14h-1zM788 294h1v1h-1zM788 313h1v6h-1zM790 291h1v4h-1zM790 298h1v5h-1zM793 274h1v6h-1zM793 292h1v1h-1zM796 274h1v3h-1zM796 283h1v17h-1zM798 276h1v1h-1zM798 284h1v10h-1zM801 279h1v1h-1zM801 286h1v2h-1zM804 272h1v3h-1zM804 282h1v5h-1zM806 282h1v13h-1zM806 297h1v11h-1zM809 269h1v4h-1zM809 282h1v1h-1zM812 215h1v12h-1zM812 231h1v10h-1zM814 199h1v4h-1zM814 234h1v1h-1zM817 185h1v8h-1zM817 197h1v11h-1zM820 172h1v3h-1zM820 184h1v1h-1zM822 176h1v1h-1zM822 191h1v3h-1zM825 164h1v11h-1zM825 185h1v7h-1zM828 166h1v2h-1zM828 186h1v1h-1zM830 181h1v11h-1zM830 197h1v6h-1zM833 201h1v1h-1zM833 213h1v12h-1zM836 209h1v10h-1zM836 224h1v9h-1zM838 230h1v3h-1zM838 285h1v1h-1zM841 288h1v2h-1zM841 304h1v37h-1zM844 294h1v1h-1zM846 263h1v17h-1zM846 294h1v3h-1zM849 280h1v6h-1zM849 291h1v3h-1zM852 272h1v1h-1zM852 291h1v3h-1zM854 266h1v1h-1zM854 284h1v5h-1zM857 282h1v1h-1zM857 284h1v20h-1zM860 281h1v2h-1zM860 303h1v1h-1zM862 303h1v1h-1zM865 271h1v13h-1zM865 294h1v10h-1zM868 294h1v1h-1zM870 280h1v3h-1zM870 301h1v1h-1zM873 282h1v9h-1zM873 294h1v1h-1zM876 265h1v1h-1zM876 285h1v4h-1zM878 242h1v9h-1zM878 253h1v9h-1zM881 247h1v1h-1zM881 258h1v5h-1zM884 232h1v1h-1zM884 256h1v3h-1zM886 232h1v1h-1zM886 247h1v1h-1zM889 233h1v1h-1zM889 237h1v4h-1zM892 239h1v3h-1zM892 244h1v26h-1zM894 207h1v5h-1zM894 238h1v2h-1zM897 185h1v7h-1zM897 212h1v1h-1zM900 192h1v6h-1zM900 204h1v3h-1zM902 180h1v12h-1zM902 205h1v7h-1zM905 183h1v4h-1zM905 203h1v9h-1zM908 185h1v19h-1zM908 218h1v4h-1zM910 202h1v2h-1zM910 218h1v2h-1zM913 196h1v6h-1zM913 205h1v7h-1zM916 191h1v1h-1zM916 205h1v3h-1zM918 178h1v5h-1zM918 196h1v8h-1zM921 171h1v4h-1zM921 177h1v14h-1zM924 175h1v2h-1zM924 228h1v7h-1zM926 190h1v1h-1zM926 208h1v1h-1zM929 178h1v15h-1zM929 201h1v1h-1zM932 183h1v5h-1zM932 191h1v6h-1zM934 173h1v8h-1zM934 201h1v1h-1zM937 175h1v7h-1zM937 219h1v6h-1zM940 204h1v2h-1zM940 216h1v9h-1zM942 192h1v10h-1zM942 217h1v18h-1zM945 186h1v10h-1zM945 215h1v1h-1zM948 183h1v12h-1zM948 208h1v6h-1zM950 195h1v1h-1zM950 209h1v15h-1zM953 190h1v5h-1zM953 203h1v7h-1zM956 192h1v3h-1zM956 197h1v9h-1zM958 193h1v2h-1zM958 219h1v21h-1zM961 195h1v4h-1zM961 219h1v1h-1zM964 178h1v7h-1zM966 154h1v13h-1zM966 168h1v5h-1zM969 158h1v8h-1zM969 167h1v8h-1zM972 128h1v4h-1zM972 160h1v2h-1zM974 131h1v1h-1zM974 148h1v1h-1zM977 112h1v13h-1zM977 130h1v5h-1zM980 99h1v2h-1zM980 108h1v12h-1zM982 143h1v13h-1zM982 161h1v20h-1zM985 163h1v5h-1zM985 173h1v24h-1zM988 160h1v12h-1zM988 220h1v1h-1zM990 208h1v1h-1zM990 227h1v15h-1zM993 146h1v5h-1zM993 186h1v2h-1zM996 153h1v9h-1zM996 163h1v13h-1zM998 161h1v1h-1zM998 187h1v13h-1zM1001 191h1v4h-1zM1001 231h1v4h-1zM1004 211h1v12h-1zM1004 249h1v9h-1zM1006 225h1v10h-1zM1006 236h1v9h-1zM1009 228h1v16h-1zM1009 249h1v5h-1zM1012 240h1v5h-1zM1012 255h1v11h-1zM1014 221h1v10h-1zM1014 295h1v1h-1zM1017 283h1v8h-1zM1017 294h1v27h-1zM1020 256h1v11h-1zM1020 285h1v1h-1zM1022 258h1v5h-1zM1022 275h1v13h-1zM1025 244h1v6h-1zM1025 255h1v6h-1zM1028 242h1v2h-1zM1028 246h1v2h-1zM1030 242h1v5h-1zM1030 258h1v6h-1zM1033 217h1v19h-1zM1036 215h1v1h-1zM1036 239h1v3h-1zM1038 208h1v1h-1zM1038 221h1v1h-1zM1041 192h1v3h-1zM1041 209h1v3h-1zM1044 187h1v6h-1zM1044 194h1v7h-1zM1046 191h1v3h-1zM1046 199h1v1h-1zM1049 163h1v9h-1zM1049 183h1v8h-1zM1052 171h1v2h-1zM1052 190h1v10h-1zM1054 176h1v5h-1zM1054 189h1v21h-1zM1057 172h1v10h-1zM1057 190h1v11h-1zM1060 170h1v2h-1zM1060 196h1v1h-1zM1062 172h1v1h-1zM1062 212h1v2h-1zM1065 174h1v7h-1zM1065 196h1v1h-1zM1068 152h1v1h-1zM1068 177h1v1h-1zM1070 131h1v14h-1zM1070 153h1v1h-1zM1073 144h1v5h-1zM1073 154h1v4h-1zM1076 145h1v4h-1zM1076 153h1v1h-1zM1078 141h1v5h-1zM1081 174h1v1h-1zM1081 187h1v1h-1zM1084 184h1v1h-1zM1084 198h1v1h-1zM1087 195h1v1h-1zM1087 210h1v1h-1zM1089 246h1v6h-1zM1092 216h1v4h-1zM1092 224h1v8h-1zM1095 200h1v1h-1zM1095 218h1v2h-1zM1097 174h1v22h-1zM1097 200h1v10h-1zM1100 179h1v1h-1zM1100 214h1v8h-1zM1103 207h1v3h-1zM1103 213h1v7h-1zM1105 192h1v11h-1zM1105 210h1v5h-1zM1108 197h1v7h-1zM1108 205h1v9h-1zM1111 195h1v10h-1zM1111 212h1v12h-1zM1113 198h1v8h-1zM1113 213h1v1h-1zM1116 192h1v12h-1zM1116 236h1v1h-1zM1119 231h1v13h-1zM1119 247h1v4h-1zM1121 241h1v6h-1zM1121 256h1v14h-1zM1124 241h1v1h-1zM1124 254h1v3h-1zM1127 231h1v10h-1zM1127 242h1v10h-1zM1129 236h1v5h-1zM1129 248h1v1h-1zM1132 241h1v7h-1zM1132 255h1v3h-1zM1137 283h1v1h-1zM1137 306h1v17h-1zM1140 309h1v2h-1zM1140 325h1v5h-1zM1143 307h1v2h-1zM1143 321h1v3h-1zM1145 257h1v1h-1zM1145 284h1v17h-1zM1148 291h1v1h-1zM1148 352h1v13h-1zM1151 357h1v4h-1zM1151 387h1v6h-1zM1153 358h1v7h-1zM1153 367h1v11h-1zM1156 328h1v12h-1zM1156 362h1v7h-1zM1159 329h1v1h-1zM1159 352h1v6h-1zM1161 366h1v9h-1zM1164 365h1v1h-1zM1164 391h1v8h-1zM1167 373h1v9h-1zM1167 394h1v6h-1zM1169 370h1v6h-1zM1169 391h1v5h-1zM1172 346h1v20h-1zM1172 367h1v1h-1zM1175 364h1v7h-1zM1175 378h1v5h-1z" fill="#FF9800"/><path d="M0 787h3v1h-3zM2 787h3v1h-3zM5 788h3v1h-3zM8 789h3v1h-3zM10 789h3v1h-3zM13 789h3v2h-3zM16 791h3v1h-3zM18 790h3v1h-3zM21 790h3v1h-3zM26 787h3v1h-3zM29 787h3v3h-3zM35 784h3v1h-3zM40 781h3v1h-3zM43 782h3v2h-3zM48 778h3v2h-3zM51 779h3v3h-3zM53 781h3v1h-3zM64 776h3v4h-3zM69 778h3v1h-3zM72 778h3v1h-3zM77 774h3v1h-3zM80 772h3v2h-3zM83 772h3v1h-3zM85 772h3v1h-3zM91 765h3v1h-3zM93 765h3v2h-3zM99 762h3v3h-3zM104 762h3v1h-3zM107 763h3v1h-3zM109 763h3v1h-3zM112 762h3v1h-3zM115 762h3v1h-3zM117 762h3v1h-3zM120 761h3v2h-3zM123 762h3v8h-3zM128 767h3v1h-3zM131 767h3v1h-3zM133 767h3v3h-3zM136 768h3v1h-3zM139 768h3v4h-3zM141 776h3v1h-3zM147 769h3v1h-3zM149 768h3v2h-3zM155 757h3v2h-3zM157 756h3v4h-3zM163 753h3v1h-3zM165 752h3v1h-3zM171 748h3v1h-3zM173 748h3v1h-3zM176 748h3v1h-3zM179 747h3v4h-3zM181 748h3v3h-3zM184 751h3v3h-3zM187 754h3v2h-3zM189 755h3v1h-3zM192 754h3v1h-3zM197 752h3v4h-3zM203 756h3v1h-3zM205 755h3v1h-3zM211 740h3v1h-3zM216 738h3v1h-3zM219 736h3v2h-3zM224 732h3v2h-3zM229 732h3v1h-3zM237 727h3v5h-3zM240 730h3v1h-3zM243 730h3v1h-3zM245 731h3v1h-3zM248 731h3v1h-3zM251 730h3v3h-3zM259 721h3v1h-3zM261 720h3v5h-3zM269 708h3v2h-3zM272 707h3v1h-3zM275 707h3v1h-3zM277 707h3v5h-3zM280 711h3v2h-3zM283 712h3v1h-3zM288 709h3v1h-3zM291 709h3v1h-3zM293 709h3v1h-3zM301 702h3v1h-3zM304 702h3v1h-3zM307 703h3v4h-3zM309 708h3v6h-3zM312 712h3v1h-3zM315 714h3v2h-3zM333 640h3v3h-3zM336 642h3v8h-3zM341 627h3v20h-3zM355 620h3v9h-3zM360 622h3v1h-3zM371 609h3v5h-3zM379 569h3v31h-3zM381 588h3v17h-3zM384 598h3v1h-3zM392 588h3v2h-3zM395 592h3v4h-3zM397 594h3v11h-3zM400 593h3v1h-3zM405 570h3v11h-3zM411 560h3v6h-3zM413 566h3v11h-3zM416 582h3v1h-3zM419 580h3v8h-3zM421 584h3v5h-3zM427 576h3v12h-3zM429 589h3v21h-3zM432 615h3v1h-3zM440 617h3v8h-3zM443 615h3v1h-3zM445 611h3v2h-3zM451 596h3v1h-3zM459 575h3v1h-3zM467 571h3v1h-3zM480 492h3v1h-3zM491 436h3v17h-3zM496 431h3v2h-3zM504 409h3v44h-3zM509 470h3v22h-3zM512 513h3v19h-3zM515 532h3v10h-3zM520 527h3v27h-3zM525 540h3v19h-3zM533 542h3v28h-3zM539 564h3v23h-3zM544 558h3v1h-3zM547 561h3v13h-3zM552 540h3v4h-3zM555 550h3v7h-3zM568 508h3v2h-3zM571 510h3v16h-3zM573 521h3v14h-3zM576 537h3v13h-3zM589 571h3v23h-3zM595 559h3v22h-3zM600 540h3v1h-3zM603 540h3v2h-3zM605 513h3v12h-3zM611 511h3v12h-3zM613 516h3v5h-3zM616 525h3v6h-3zM637 423h3v14h-3zM643 409h3v1h-3zM645 450h3v15h-3zM653 426h3v8h-3zM656 420h3v10h-3zM664 392h3v1h-3zM667 388h3v1h-3zM672 397h3v7h-3zM674 404h3v17h-3zM677 400h3v16h-3zM683 399h3v13h-3zM685 408h3v3h-3zM688 405h3v11h-3zM693 380h3v1h-3zM696 375h3v1h-3zM699 376h3v11h-3zM701 376h3v47h-3zM715 363h3v5h-3zM723 344h3v12h-3zM725 350h3v8h-3zM728 347h3v13h-3zM731 350h3v4h-3zM739 332h3v2h-3zM741 332h3v52h-3zM744 357h3v6h-3zM747 367h3v18h-3zM752 370h3v1h-3zM763 338h3v2h-3zM765 338h3v4h-3zM771 316h3v4h-3zM779 295h3v5h-3zM781 298h3v8h-3zM784 309h3v8h-3zM795 277h3v6h-3zM797 277h3v7h-3zM803 275h3v7h-3zM805 295h3v2h-3zM821 177h3v14h-3zM827 168h3v18h-3zM829 192h3v5h-3zM832 202h3v11h-3zM835 219h3v5h-3zM837 233h3v52h-3zM853 267h3v17h-3zM856 283h3v1h-3zM864 284h3v10h-3zM869 283h3v18h-3zM877 251h3v2h-3zM880 248h3v10h-3zM888 234h3v3h-3zM891 242h3v2h-3zM899 198h3v6h-3zM901 192h3v13h-3zM904 187h3v16h-3zM909 204h3v14h-3zM920 175h3v2h-3zM923 177h3v51h-3zM925 191h3v17h-3zM936 182h3v37h-3zM939 206h3v10h-3zM944 196h3v19h-3zM947 195h3v13h-3zM949 196h3v13h-3zM955 195h3v2h-3zM957 195h3v24h-3zM965 167h3v1h-3zM968 166h3v1h-3zM973 132h3v16h-3zM981 156h3v5h-3zM984 168h3v5h-3zM987 172h3v48h-3zM995 162h3v1h-3zM997 162h3v25h-3zM1000 195h3v36h-3zM1005 235h3v1h-3zM1008 244h3v5h-3zM1011 245h3v10h-3zM1013 231h3v64h-3zM1016 291h3v3h-3zM1024 250h3v5h-3zM1027 244h3v2h-3zM1043 193h3v1h-3zM1051 173h3v17h-3zM1053 181h3v8h-3zM1056 182h3v8h-3zM1061 173h3v39h-3zM1069 145h3v8h-3zM1075 149h3v4h-3zM1077 146h3v24h-3zM1080 175h3v12h-3zM1083 185h3v13h-3zM1086 196h3v14h-3zM1088 196h3v50h-3zM1091 220h3v4h-3zM1099 180h3v34h-3zM1107 204h3v1h-3zM1110 205h3v7h-3zM1112 206h3v7h-3zM1115 204h3v32h-3zM1120 247h3v9h-3zM1123 242h3v12h-3zM1126 241h3v1h-3zM1131 248h3v7h-3zM1134 258h3v28h-3zM1136 284h3v22h-3zM1139 311h3v14h-3zM1142 309h3v12h-3zM1144 258h3v26h-3zM1147 292h3v60h-3zM1150 361h3v26h-3zM1152 365h3v2h-3zM1158 330h3v22h-3zM1160 352h3v14h-3zM1163 366h3v25h-3zM1171 366h3v1h-3z" fill="#FF9800"/><path d="M24.5 787.5h2v2h-2zM32.5 786.5h2v4h-2zM37.5 780.5h2v3h-2zM45.5 779.5h2v3h-2zM56.5 775.5h2v5h-2zM59.5 772.5h2v2h-2zM61.5 770.5h2v3h-2zM67.5 778.5h2v3h-2zM75.5 774.5h2v3h-2zM88.5 767.5h2v4h-2zM96.5 762.5h2v3h-2zM101.5 764.5h2v3h-2zM125.5 769.5h2v2h-2zM144.5 779.5h2v8h-2zM152.5 759.5h2v8h-2zM160.5 755.5h2v2h-2zM168.5 749.5h2v4h-2zM195.5 751.5h2v2h-2zM200.5 754.5h2v2h-2zM208.5 740.5h2v7h-2zM213.5 740.5h2v2h-2zM221.5 733.5h2v2h-2zM227.5 733.5h2v2h-2zM232.5 731.5h2v3h-2zM235.5 727.5h2v3h-2zM253.5 730.5h2v2h-2zM256.5 722.5h2v7h-2zM264.5 714.5h2v7h-2zM267.5 708.5h2v5h-2zM285.5 709.5h2v3h-2zM296.5 706.5h2v3h-2zM299.5 702.5h2v3h-2zM317.5 678.5h2v11h-2zM320.5 662.5h2v7h-2zM323.5 660.5h2v7h-2zM325.5 651.5h2v10h-2zM328.5 643.5h2v3h-2zM331.5 645.5h2v2h-2zM339.5 624.5h2v17h-2zM344.5 635.5h2v11h-2zM347.5 635.5h2v6h-2zM349.5 633.5h2v7h-2zM352.5 630.5h2v9h-2zM357.5 625.5h2v4h-2zM363.5 619.5h2v4h-2zM365.5 618.5h2v3h-2zM368.5 605.5h2v16h-2zM373.5 602.5h2v6h-2zM376.5 584.5h2v14h-2zM387.5 597.5h2v2h-2zM389.5 587.5h2v10h-2zM403.5 569.5h2v29h-2zM408.5 563.5h2v3h-2zM424.5 572.5h2v16h-2zM435.5 620.5h2v2h-2zM437.5 627.5h2v2h-2zM448.5 602.5h2v2h-2zM453.5 583.5h2v9h-2zM456.5 575.5h2v11h-2zM461.5 588.5h2v5h-2zM464.5 571.5h2v16h-2zM469.5 567.5h2v3h-2zM472.5 562.5h2v5h-2zM475.5 558.5h2v12h-2zM477.5 483.5h2v3h-2zM483.5 456.5h2v36h-2zM485.5 437.5h2v19h-2zM488.5 436.5h2v16h-2zM493.5 433.5h2v25h-2zM499.5 426.5h2v4h-2zM501.5 405.5h2v14h-2zM507.5 474.5h2v12h-2zM517.5 532.5h2v9h-2zM523.5 554.5h2v18h-2zM528.5 555.5h2v15h-2zM531.5 534.5h2v13h-2zM536.5 553.5h2v17h-2zM541.5 579.5h2v7h-2zM549.5 548.5h2v11h-2zM557.5 549.5h2v8h-2zM560.5 544.5h2v6h-2zM563.5 531.5h2v18h-2zM565.5 508.5h2v13h-2zM579.5 554.5h2v16h-2zM581.5 554.5h2v3h-2zM584.5 544.5h2v18h-2zM587.5 559.5h2v7h-2zM592.5 580.5h2v40h-2zM597.5 527.5h2v50h-2zM608.5 503.5h2v18h-2zM619.5 520.5h2v2h-2zM621.5 494.5h2v8h-2zM624.5 469.5h2v23h-2zM627.5 450.5h2v18h-2zM629.5 443.5h2v2h-2zM632.5 438.5h2v8h-2zM635.5 429.5h2v24h-2zM640.5 407.5h2v20h-2zM648.5 459.5h2v8h-2zM651.5 426.5h2v26h-2zM659.5 394.5h2v30h-2zM661.5 387.5h2v6h-2zM669.5 400.5h2v5h-2zM680.5 411.5h2v8h-2zM691.5 380.5h2v30h-2zM704.5 394.5h2v16h-2zM707.5 379.5h2v17h-2zM709.5 376.5h2v6h-2zM712.5 363.5h2v8h-2zM717.5 359.5h2v13h-2zM720.5 344.5h2v4h-2zM733.5 337.5h2v8h-2zM736.5 334.5h2v8h-2zM749.5 378.5h2v3h-2zM755.5 353.5h2v17h-2zM757.5 350.5h2v3h-2zM760.5 338.5h2v12h-2zM768.5 315.5h2v24h-2zM773.5 309.5h2v6h-2zM776.5 297.5h2v8h-2zM787.5 295.5h2v17h-2zM789.5 295.5h2v2h-2zM792.5 280.5h2v11h-2zM800.5 280.5h2v5h-2zM808.5 273.5h2v8h-2zM811.5 227.5h2v3h-2zM813.5 203.5h2v30h-2zM816.5 193.5h2v3h-2zM819.5 175.5h2v8h-2zM824.5 175.5h2v9h-2zM840.5 290.5h2v13h-2zM843.5 285.5h2v8h-2zM845.5 280.5h2v13h-2zM848.5 286.5h2v4h-2zM851.5 273.5h2v17h-2zM859.5 283.5h2v19h-2zM861.5 285.5h2v17h-2zM867.5 285.5h2v8h-2zM872.5 291.5h2v2h-2zM875.5 266.5h2v18h-2zM883.5 233.5h2v22h-2zM885.5 233.5h2v13h-2zM893.5 212.5h2v25h-2zM896.5 192.5h2v19h-2zM907.5 204.5h2v13h-2zM912.5 202.5h2v2h-2zM915.5 192.5h2v12h-2zM917.5 183.5h2v12h-2zM928.5 193.5h2v7h-2zM931.5 188.5h2v2h-2zM933.5 181.5h2v19h-2zM941.5 202.5h2v14h-2zM952.5 195.5h2v7h-2zM960.5 199.5h2v19h-2zM963.5 185.5h2v5h-2zM971.5 132.5h2v27h-2zM976.5 125.5h2v4h-2zM979.5 101.5h2v6h-2zM989.5 209.5h2v17h-2zM992.5 151.5h2v34h-2zM1003.5 223.5h2v25h-2zM1019.5 267.5h2v17h-2zM1021.5 263.5h2v11h-2zM1029.5 247.5h2v10h-2zM1032.5 236.5h2v4h-2zM1035.5 216.5h2v22h-2zM1037.5 209.5h2v11h-2zM1040.5 195.5h2v13h-2zM1045.5 194.5h2v4h-2zM1048.5 172.5h2v10h-2zM1059.5 172.5h2v23h-2zM1064.5 181.5h2v14h-2zM1067.5 153.5h2v23h-2zM1072.5 149.5h2v4h-2zM1094.5 201.5h2v16h-2zM1096.5 196.5h2v3h-2zM1102.5 210.5h2v2h-2zM1104.5 203.5h2v6h-2zM1118.5 244.5h2v2h-2zM1128.5 241.5h2v6h-2zM1155.5 340.5h2v21h-2zM1166.5 382.5h2v11h-2zM1168.5 376.5h2v14h-2zM1174.5 371.5h2v6h-2z" fill="none" stroke="#FF9800" stroke-width="1"/></g>
<line x1="145.5" y1="781.5" x2="1204.0" y2="377.7" stroke="#f2e93c" stroke-width="1.4"/>
<text x="559.3" y="121.2" font-family="Liberation Sans, sans-serif" font-weight="bold" font-size="19.6" fill="#FF9800" textLength="42.3" lengthAdjust="spacingAndGlyphs">PLTR</text>
<rect x="1252" y="0" width="1" height="905" fill="#d6d6d6" shape-rendering="crispEdges"/>
<rect x="0" y="877" width="1299" height="1" fill="#d6d6d6" shape-rendering="crispEdges"/>
<text x="1260.3" y="872.1" font-family="Liberation Sans, sans-serif" font-size="11.8" fill="#d9d9d9" stroke="#d9d9d9" stroke-width="0.25">0.00</text>
<text x="1260.3" y="835.1" font-family="Liberation Sans, sans-serif" font-size="11.8" fill="#d9d9d9" stroke="#d9d9d9" stroke-width="0.25">10.00</text>
<text x="1260.3" y="798.1" font-family="Liberation Sans, sans-serif" font-size="11.8" fill="#d9d9d9" stroke="#d9d9d9" stroke-width="0.25">20.00</text>
<text x="1260.3" y="761.1" font-family="Liberation Sans, sans-serif" font-size="11.8" fill="#d9d9d9" stroke="#d9d9d9" stroke-width="0.25">30.00</text>
<text x="1260.3" y="724.1" font-family="Liberation Sans, sans-serif" font-size="11.8" fill="#d9d9d9" stroke="#d9d9d9" stroke-width="0.25">40.00</text>
<text x="1260.3" y="687.1" font-family="Liberation Sans, sans-serif" font-size="11.8" fill="#d9d9d9" stroke="#d9d9d9" stroke-width="0.25">50.00</text>
<text x="1260.3" y="650.1" font-family="Liberation Sans, sans-serif" font-size="11.8" fill="#d9d9d9" stroke="#d9d9d9" stroke-width="0.25">60.00</text>
<text x="1260.3" y="612.1" font-family="Liberation Sans, sans-serif" font-size="11.8" fill="#d9d9d9" stroke="#d9d9d9" stroke-width="0.25">70.00</text>
<text x="1260.3" y="575.1" font-family="Liberation Sans, sans-serif" font-size="11.8" fill="#d9d9d9" stroke="#d9d9d9" stroke-width="0.25">80.00</text>
<text x="1260.3" y="538.1" font-family="Liberation Sans, sans-serif" font-size="11.8" fill="#d9d9d9" stroke="#d9d9d9" stroke-width="0.25">90.00</text>
<text x="1260.3" y="501.1" font-family="Liberation Sans, sans-serif" font-size="11.8" fill="#d9d9d9" stroke="#d9d9d9" stroke-width="0.25">100.00</text>
<text x="1260.3" y="464.1" font-family="Liberation Sans, sans-serif" font-size="11.8" fill="#d9d9d9" stroke="#d9d9d9" stroke-width="0.25">110.00</text>
<text x="1260.3" y="427.1" font-family="Liberation Sans, sans-serif" font-size="11.8" fill="#d9d9d9" stroke="#d9d9d9" stroke-width="0.25">120.00</text>
<text x="1260.3" y="390.1" font-family="Liberation Sans, sans-serif" font-size="11.8" fill="#d9d9d9" stroke="#d9d9d9" stroke-width="0.25">130.00</text>
<text x="1260.3" y="353.1" font-family="Liberation Sans, sans-serif" font-size="11.8" fill="#d9d9d9" stroke="#d9d9d9" stroke-width="0.25">140.00</text>
<text x="1260.3" y="316.1" font-family="Liberation Sans, sans-serif" font-size="11.8" fill="#d9d9d9" stroke="#d9d9d9" stroke-width="0.25">150.00</text>
<text x="1260.3" y="279.1" font-family="Liberation Sans, sans-serif" font-size="11.8" fill="#d9d9d9" stroke="#d9d9d9" stroke-width="0.25">160.00</text>
<text x="1260.3" y="242.1" font-family="Liberation Sans, sans-serif" font-size="11.8" fill="#d9d9d9" stroke="#d9d9d9" stroke-width="0.25">170.00</text>
<text x="1260.3" y="205.1" font-family="Liberation Sans, sans-serif" font-size="11.8" fill="#d9d9d9" stroke="#d9d9d9" stroke-width="0.25">180.00</text>
<text x="1260.3" y="168.1" font-family="Liberation Sans, sans-serif" font-size="11.8" fill="#d9d9d9" stroke="#d9d9d9" stroke-width="0.25">190.00</text>
<text x="1260.3" y="131.1" font-family="Liberation Sans, sans-serif" font-size="11.8" fill="#d9d9d9" stroke="#d9d9d9" stroke-width="0.25">200.00</text>
<text x="1260.3" y="94.1" font-family="Liberation Sans, sans-serif" font-size="11.8" fill="#d9d9d9" stroke="#d9d9d9" stroke-width="0.25">210.00</text>
<text x="1260.3" y="57.1" font-family="Liberation Sans, sans-serif" font-size="11.8" fill="#d9d9d9" stroke="#d9d9d9" stroke-width="0.25">220.00</text>
<text x="1260.3" y="20.1" font-family="Liberation Sans, sans-serif" font-size="11.8" fill="#d9d9d9" stroke="#d9d9d9" stroke-width="0.25">230.00</text>
<rect x="1253" y="241" width="46" height="17" fill="#ffd600" shape-rendering="crispEdges"/><text x="1260.3" y="253.8" font-family="Liberation Sans, sans-serif" font-size="11.8" fill="#1a1200">167.14</text>
<rect x="1253" y="264" width="46" height="17" fill="#5b6ef5" shape-rendering="crispEdges"/><text x="1260.3" y="276.8" font-family="Liberation Sans, sans-serif" font-size="11.8" font-weight="bold" fill="#ffffff">160.98</text>
<rect x="1253" y="362" width="46" height="17" fill="#ff9800" shape-rendering="crispEdges"/><text x="1260.3" y="374.8" font-family="Liberation Sans, sans-serif" font-size="11.8" fill="#1a0f00">134.49</text>
<rect x="1253" y="379" width="46" height="17" fill="#f7253c" shape-rendering="crispEdges"/><text x="1260.3" y="391.8" font-family="Liberation Sans, sans-serif" font-size="11.8" font-weight="bold" fill="#ffffff">129.81</text>
<text x="81.5" y="895.2" text-anchor="middle" font-family="Liberation Sans, sans-serif" font-size="12" fill="#d9d9d9" stroke="#d9d9d9" stroke-width="0.25">Jul</text>
<text x="198.5" y="895.2" text-anchor="middle" font-family="Liberation Sans, sans-serif" font-size="12" fill="#d9d9d9" stroke="#d9d9d9" stroke-width="0.25">Sep</text>
<text x="313.5" y="895.2" text-anchor="middle" font-family="Liberation Sans, sans-serif" font-size="12" fill="#d9d9d9" stroke="#d9d9d9" stroke-width="0.25">Nov</text>
<text x="422.5" y="895.2" text-anchor="middle" font-family="Liberation Sans, sans-serif" font-size="12" font-weight="bold" fill="#d9d9d9" stroke="#d9d9d9" stroke-width="0.25">2025</text>
<text x="526.5" y="895.2" text-anchor="middle" font-family="Liberation Sans, sans-serif" font-size="12" fill="#d9d9d9" stroke="#d9d9d9" stroke-width="0.25">Mar</text>
<text x="638.5" y="895.2" text-anchor="middle" font-family="Liberation Sans, sans-serif" font-size="12" fill="#d9d9d9" stroke="#d9d9d9" stroke-width="0.25">May</text>
<text x="748.5" y="895.2" text-anchor="middle" font-family="Liberation Sans, sans-serif" font-size="12" fill="#d9d9d9" stroke="#d9d9d9" stroke-width="0.25">Jul</text>
<text x="862.5" y="895.2" text-anchor="middle" font-family="Liberation Sans, sans-serif" font-size="12" fill="#d9d9d9" stroke="#d9d9d9" stroke-width="0.25">Sep</text>
<text x="980.5" y="895.2" text-anchor="middle" font-family="Liberation Sans, sans-serif" font-size="12" fill="#d9d9d9" stroke="#d9d9d9" stroke-width="0.25">Nov</text>
<text x="1089.5" y="895.2" text-anchor="middle" font-family="Liberation Sans, sans-serif" font-size="12" font-weight="bold" fill="#d9d9d9" stroke="#d9d9d9" stroke-width="0.25">2026</text>
<text x="1193.5" y="895.2" text-anchor="middle" font-family="Liberation Sans, sans-serif" font-size="12" fill="#d9d9d9" stroke="#d9d9d9" stroke-width="0.25">Mar</text>
<polygon points="1272.4,891.5 1275.9,885.5 1282.9,885.5 1286.4,891.5 1282.9,897.5 1275.9,897.5" fill="none" stroke="#d6d6d6" stroke-width="1.1" stroke-linejoin="round"/>
<circle cx="1279.4" cy="891.5" r="2.1" fill="none" stroke="#d6d6d6" stroke-width="1.1"/>
</svg>
</div></body></html>
